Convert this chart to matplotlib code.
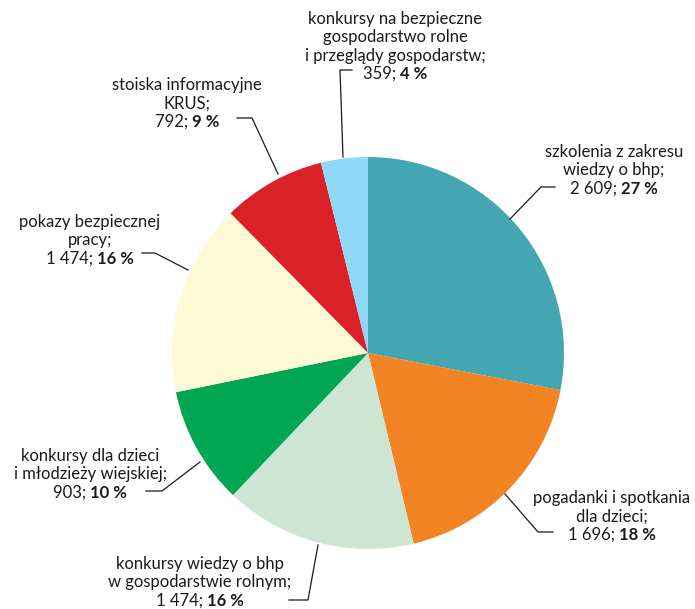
import matplotlib
matplotlib.use("Agg")
import matplotlib.pyplot as plt

plt.rcParams['font.family'] = ['Lato', 'DejaVu Sans']

names = [
    ["szkolenia z zakresu", "wiedzy o bhp;"],
    ["pogadanki i spotkania", "dla dzieci;"],
    ["konkursy wiedzy o bhp", "w gospodarstwie rolnym;"],
    ["konkursy dla dzieci", "i młodzieży wiejskiej;"],
    ["pokazy bezpiecznej", "pracy;"],
    ["stoiska informacyjne", "KRUS;"],
    ["konkursy na bezpieczne", "gospodarstwo rolne", "i przeglądy gospodarstw;"],
]
values = [2609, 1696, 1474, 903, 1474, 792, 359]
counts = ["2 609", "1 696", "1 474", "903", "1 474", "792", "359"]
percents = ["27 %", "18 %", "16 %", "10 %", "16 %", "9 %", "4 %"]
colors = ["#44A6B0", "#F28424", "#CCE6D3", "#00A651", "#FFFAD6", "#DA2128", "#8FD8F7"]

# label block centre x, top line y (pixels from top)
label_pos = [(614, 152), (612, 498), (200, 564), (90, 456), (90, 222), (187, 85), (395, 19)]
# leader lines in pixels (from top)
leaders = [
    [(510, 219), (541, 187), (555, 187)],
    [(505, 494), (538, 532), (553, 532)],
    [(318, 545), (308, 600), (289, 600)],
    [(200, 462), (162, 491), (146, 491)],
    [(188, 270), (155, 253), (142, 253)],
    [(278, 174), (252, 118), (237, 118)],
    [(343, 157), (340, 70), (352, 70)],
]

W, H = 695, 609
fig = plt.figure(figsize=(W / 100, H / 100), dpi=100)
ax = fig.add_axes([0, 0, 1, 1])

ax.pie(values, colors=colors, startangle=90, counterclock=False,
       center=(368, H - 353), radius=196, frame=True,
       wedgeprops=dict(linewidth=0))
ax.set_xlim(0, W)
ax.set_ylim(0, H)
ax.set_aspect('equal')
ax.axis('off')

for pts in leaders:
    ax.plot([p[0] for p in pts], [H - p[1] for p in pts], color='#1a1a1a', lw=0.9)

fs = 12
step = 18.3
fig.canvas.draw()
r = fig.canvas.get_renderer()
for lines, cnt, pct, (cx, ty) in zip(names, counts, percents, label_pos):
    for i, ln in enumerate(lines):
        ax.text(cx, H - (ty + i * step), ln, ha='center', va='center',
                fontsize=fs, color='#1a1a1a')
    y = H - (ty + len(lines) * step)
    t1 = ax.text(0, y, cnt + "; ", ha='left', va='center', fontsize=fs, color='#1a1a1a')
    t2 = ax.text(0, y, pct, ha='left', va='center', fontsize=fs,
                 fontweight='bold', color='#1a1a1a')
    w1 = t1.get_window_extent(r).width
    w2 = t2.get_window_extent(r).width
    x0 = cx - (w1 + w2) / 2
    t1.set_x(x0)
    t2.set_x(x0 + w1)

fig.savefig("out.png", dpi=100)
